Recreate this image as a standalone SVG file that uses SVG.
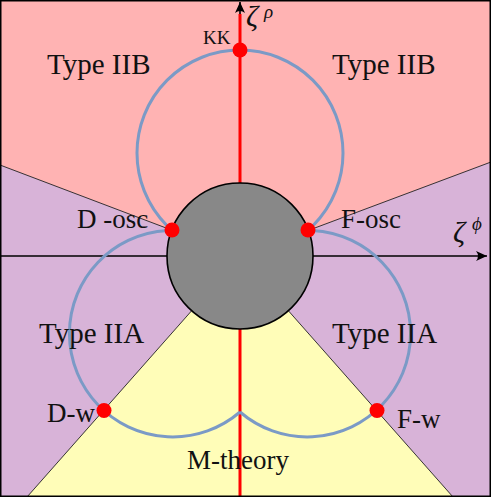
<svg xmlns="http://www.w3.org/2000/svg" width="491" height="497" viewBox="0 0 491 497">
  <style>
    .lbl { font-family: "Liberation Serif", "DejaVu Serif", serif; font-size: 27px; fill: #111; }
    .big { font-size: 29px; }
    .sym { font-family: "Liberation Serif", "DejaVu Serif", serif; font-style: italic; fill: #111; }
    .bnd { stroke: #222; stroke-width: 0.9; fill: none; }
    .axis { stroke: #000; stroke-width: 1.6; fill: none; }
    .orbit { stroke: #7b9ac6; stroke-width: 3; fill: none; }
    .pt { fill: #ff0000; }
  </style>
  <defs>
    <marker id="arr" markerUnits="userSpaceOnUse" markerWidth="14" markerHeight="12" viewBox="-12 -6 14 12" refX="0" refY="0" orient="auto">
      <path d="M0,0 L-11,-5 Q-7,0 -11,5 Z" fill="#000"/>
    </marker>
  </defs>

  <g id="regions">
    <rect x="0" y="0" width="491" height="497" fill="#d8b3d8"/>
    <polygon points="0,0 491,0 491,162 240,256 0,165" fill="#ffb3b3"/>
    <polygon points="240,256 453,497 27,497" fill="#fffdb8"/>
  </g>

  <g id="connectors">
    <line class="bnd" x1="0" y1="165" x2="240" y2="256"/>
    <line class="bnd" x1="491" y1="162" x2="240" y2="256"/>
    <line class="bnd" x1="240" y1="256" x2="27" y2="497"/>
    <line class="bnd" x1="240" y1="256" x2="453" y2="497"/>
    <line class="axis" x1="0" y1="256" x2="487" y2="256" marker-end="url(#arr)"/>
    <line class="axis" x1="240" y1="497" x2="240" y2="2" marker-end="url(#arr)"/>
    <line x1="240" y1="497" x2="240" y2="14" stroke="#ff0000" stroke-width="3"/>
    <circle class="orbit" cx="240" cy="153" r="103"/>
    <path class="orbit" d="M240,255.2 A103.3,103.3 0 1 0 240,412"/>
    <path class="orbit" d="M240,255.2 A103.3,103.3 0 1 1 240,412"/>
  </g>

  <g id="core">
    <circle cx="240" cy="256" r="73" fill="#888888" stroke="#000" stroke-width="1.6"/>
  </g>

  <g id="node-kk"><circle class="pt" cx="240" cy="50" r="7.5"/><text x="203" y="44" class="lbl" style="font-size:19px">KK</text></g>
  <g id="node-dosc"><circle class="pt" cx="172" cy="230" r="7.5"/><text x="77" y="228" class="lbl">D -osc</text></g>
  <g id="node-fosc"><circle class="pt" cx="308" cy="230" r="7.5"/><text x="341" y="228" class="lbl">F-osc</text></g>
  <g id="node-dw"><circle class="pt" cx="104" cy="410.5" r="7.5"/><text x="47" y="422" class="lbl">D-w</text></g>
  <g id="node-fw"><circle class="pt" cx="377" cy="410.5" r="7.5"/><text x="397" y="428" class="lbl">F-w</text></g>

  <g id="labels">
    <text x="47" y="74" class="lbl big">Type IIB</text>
    <text x="332" y="74" class="lbl big">Type IIB</text>
    <text x="39" y="343" class="lbl big">Type IIA</text>
    <text x="332" y="343" class="lbl big">Type IIA</text>
    <text x="187" y="469" class="lbl">M-theory</text>
    <text x="246" y="26" class="sym" style="font-size:30px">ζ</text>
    <text x="264" y="18" class="sym" style="font-size:19px">ρ</text>
    <text x="453" y="242" class="sym" style="font-size:30px">ζ</text>
    <text x="472" y="230" class="sym" style="font-size:19px">ϕ</text>
  </g>

  <rect x="0.75" y="0.75" width="489.5" height="495.5" fill="none" stroke="#000" stroke-width="1.5"/>
</svg>
